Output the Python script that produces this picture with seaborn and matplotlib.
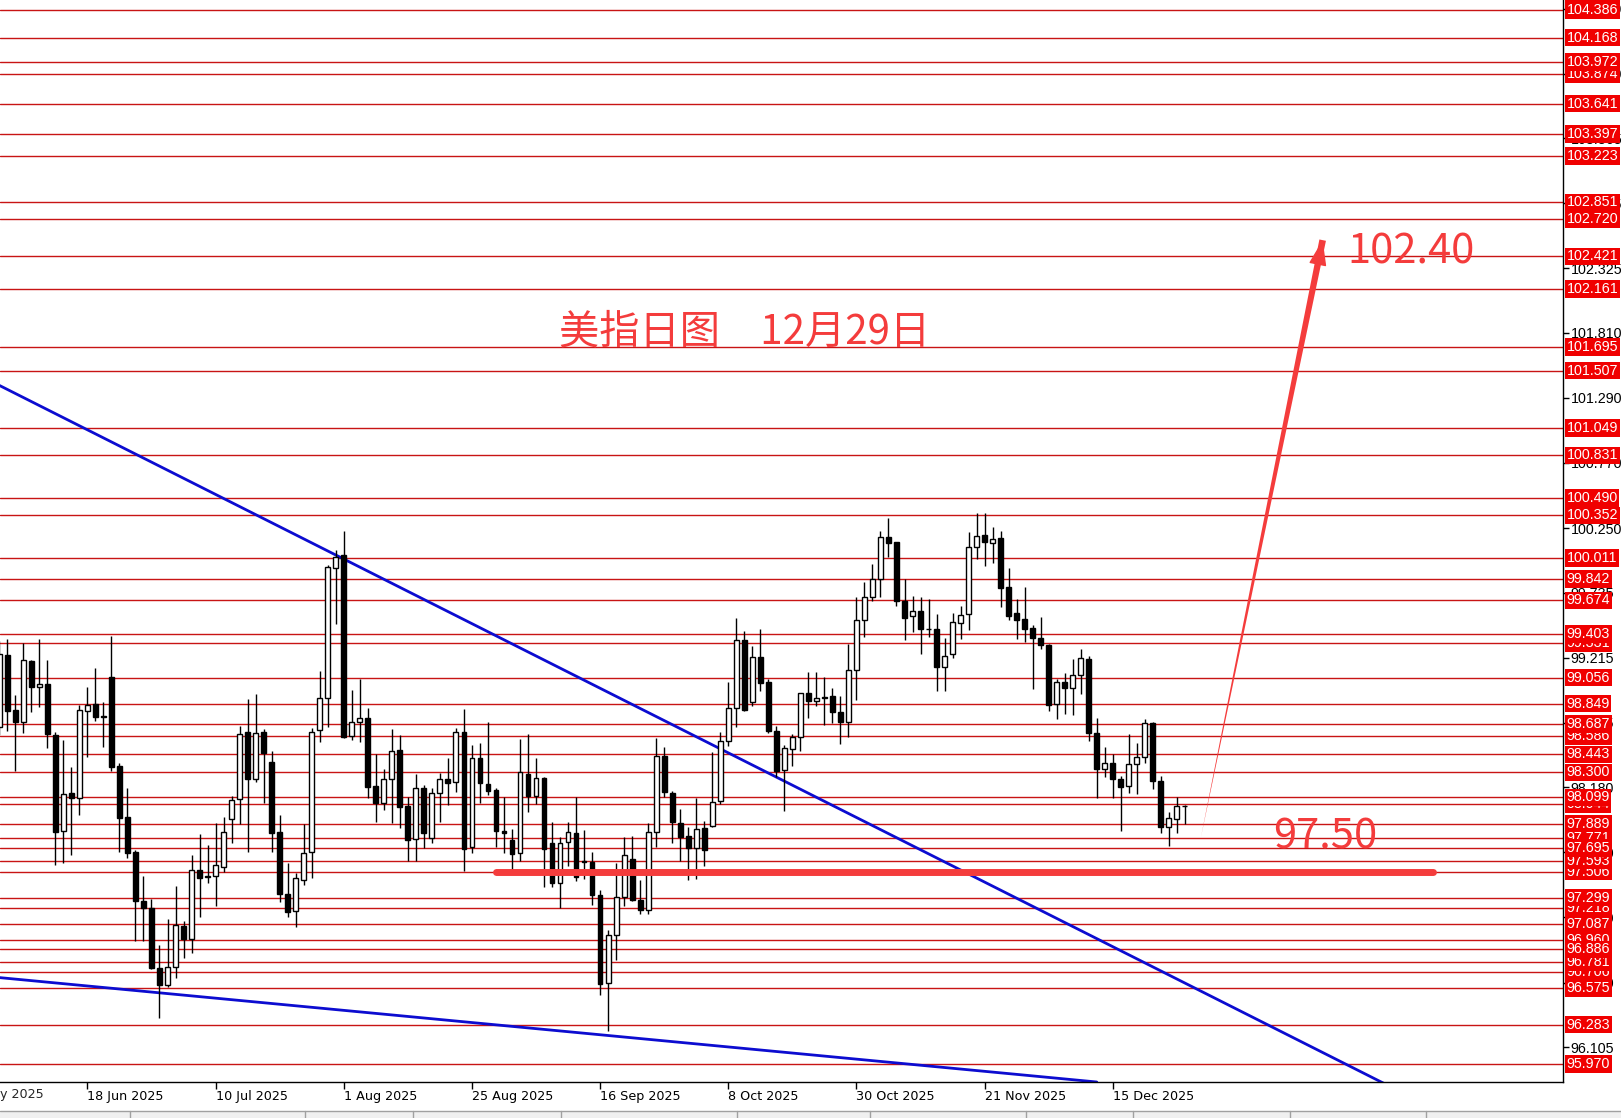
import numpy as np
import pandas as pd
import matplotlib
matplotlib.use('Agg')
import matplotlib.pyplot as plt
import seaborn as sns

# 美元指数日线 (开, 高, 低, 收), 第一根 = 2025-06-03
opens = [98.665, 99.237, 98.798, 98.704, 99.189, 98.979, 99.005, 98.598, 97.834, 98.137,
         98.092, 98.792, 98.843, 98.747, 99.059, 98.350, 97.940, 97.661, 97.272, 97.219,
         96.734, 96.601, 96.748, 97.075, 96.966, 97.520, 97.469, 97.474, 97.546, 97.924,
         98.084, 98.619, 98.247, 98.619, 98.380, 97.821, 97.325, 97.192, 97.440, 97.661,
         98.638, 98.891, 99.929, 100.036, 98.590, 98.704, 98.731, 98.191, 98.052, 98.244,
         98.478, 98.031, 97.764, 98.172, 97.772, 98.132, 98.244, 98.220, 98.619, 97.700,
         98.411, 98.204, 98.158, 97.831, 97.759, 97.653, 98.286, 98.113, 98.252, 97.732,
         97.413, 97.740, 97.812, 97.594, 97.586, 97.320, 96.614, 97.000, 97.306, 97.605,
         97.280, 97.200, 97.826, 98.430, 98.134, 97.895, 97.791, 97.695, 97.855, 97.868,
         98.073, 98.552, 98.813, 99.356, 98.858, 99.218, 99.024, 98.632, 98.318, 98.486,
         98.579, 98.933, 98.866, 98.901, 98.906, 98.779, 98.699, 99.117, 99.517, 99.703,
         99.841, 100.177, 100.137, 99.671, 99.551, 99.591, 99.447, 99.442, 99.144, 99.242,
         99.495, 99.562, 100.097, 100.193, 100.129, 100.169, 99.778, 99.570, 99.522, 99.450,
         99.370, 99.316, 98.845, 99.018, 98.970, 99.077, 99.202, 98.611, 98.323, 98.371,
         98.243, 98.190, 98.366, 98.424, 98.696, 98.233, 97.865, 97.924, 98.030]
highs = [99.349, 99.362, 98.917, 99.335, 99.197, 99.362, 99.197, 98.619, 98.558, 98.340,
         98.838, 98.979, 99.130, 98.864, 99.389, 98.372, 98.172, 97.679, 97.472, 97.285,
         96.921, 97.126, 97.392, 97.112, 97.640, 97.807, 97.719, 97.898, 97.940, 98.111,
         98.673, 98.886, 98.925, 98.643, 98.473, 97.959, 97.573, 97.493, 97.884, 98.651,
         99.112, 99.956, 100.076, 100.227, 98.957, 99.043, 98.811, 98.446, 98.324, 98.643,
         98.598, 98.105, 98.286, 98.198, 98.172, 98.292, 98.411, 98.651, 98.803, 98.518,
         98.531, 98.699, 98.172, 98.105, 97.844, 98.563, 98.606, 98.411, 98.265, 97.905,
         97.786, 97.905, 98.105, 97.839, 97.666, 97.360, 97.040, 97.573, 97.786, 97.791,
         97.440, 97.892, 98.571, 98.505, 98.153, 98.007, 97.860, 98.094, 97.913, 98.459,
         98.619, 99.024, 99.532, 99.431, 99.311, 99.444, 99.045, 98.672, 98.520, 98.606,
         98.933, 99.103, 99.103, 99.063, 98.970, 98.912, 99.324, 99.698, 99.818, 99.964,
         100.228, 100.329, 100.140, 99.841, 99.708, 99.703, 99.682, 99.562, 99.370, 99.570,
         99.631, 100.217, 100.369, 100.369, 100.262, 100.230, 99.929, 99.682, 99.783, 99.477,
         99.538, 99.325, 99.042, 99.095, 99.202, 99.282, 99.228, 98.731, 98.499, 98.443,
         98.273, 98.603, 98.531, 98.723, 98.704, 98.270, 97.985, 98.105, 98.035]
lows = [98.600, 98.633, 98.313, 98.617, 98.784, 98.824, 98.491, 97.560, 97.573, 97.640,
        97.959, 98.425, 98.712, 98.505, 98.313, 97.666, 97.613, 96.955, 96.955, 96.732,
        96.335, 96.583, 96.654, 96.820, 96.854, 97.142, 97.419, 97.232, 97.506, 97.733,
        97.887, 97.666, 98.225, 98.057, 97.666, 97.267, 97.147, 97.067, 97.400, 97.453,
        98.545, 98.665, 99.485, 98.571, 98.558, 98.545, 98.092, 97.906, 97.999, 97.898,
        97.858, 97.591, 97.591, 97.692, 97.738, 97.905, 98.039, 98.145, 97.514, 97.653,
        98.052, 98.118, 97.700, 97.653, 97.519, 97.591, 97.980, 98.047, 97.386, 97.381,
        97.219, 97.554, 97.434, 97.448, 97.240, 96.521, 96.233, 96.801, 97.235, 97.274,
        97.165, 97.165, 97.700, 98.100, 97.732, 97.589, 97.439, 97.447, 97.554, 97.860,
        98.046, 98.507, 98.659, 98.792, 98.830, 98.946, 98.611, 98.259, 97.988, 98.347,
        98.467, 98.733, 98.827, 98.680, 98.691, 98.526, 98.579, 98.877, 99.384, 99.671,
        99.703, 100.023, 99.631, 99.357, 99.423, 99.245, 99.384, 98.952, 98.952, 99.210,
        99.362, 99.437, 100.001, 99.951, 99.975, 99.618, 99.517, 99.365, 99.344, 98.966,
        99.282, 98.792, 98.725, 98.765, 98.757, 98.925, 98.552, 98.092, 98.259, 98.092,
        97.833, 98.137, 98.126, 98.376, 98.164, 97.817, 97.711, 97.817, 97.887]
closes = [99.245, 98.792, 98.704, 99.197, 98.979, 99.003, 98.603, 97.826, 98.124, 98.092,
          98.798, 98.838, 98.744, 98.742, 98.345, 97.938, 97.658, 97.275, 97.219, 96.734,
          96.601, 96.742, 97.080, 96.969, 97.520, 97.459, 97.464, 97.560, 97.821, 98.079,
          98.603, 98.247, 98.611, 98.457, 97.813, 97.325, 97.182, 97.453, 97.653, 98.625,
          98.891, 99.937, 100.017, 98.585, 98.704, 98.731, 98.185, 98.057, 98.244, 98.473,
          98.025, 97.759, 98.172, 97.818, 98.132, 98.244, 98.217, 98.619, 97.687, 98.411,
          98.212, 98.153, 97.834, 97.812, 97.645, 98.300, 98.113, 98.252, 97.687, 97.413,
          97.732, 97.820, 97.461, 97.581, 97.320, 96.609, 97.000, 97.306, 97.639, 97.280,
          97.200, 97.826, 98.430, 98.145, 97.900, 97.786, 97.695, 97.847, 97.682, 98.062,
          98.547, 98.813, 99.356, 98.797, 99.218, 99.010, 98.627, 98.313, 98.491, 98.579,
          98.933, 98.866, 98.893, 98.896, 98.779, 98.699, 99.117, 99.517, 99.703, 99.841,
          100.177, 100.134, 99.671, 99.530, 99.591, 99.442, 99.442, 99.144, 99.232, 99.503,
          99.557, 100.097, 100.190, 100.142, 100.166, 99.775, 99.551, 99.517, 99.442, 99.370,
          99.317, 98.837, 99.023, 98.970, 99.077, 99.210, 98.611, 98.323, 98.371, 98.243,
          98.185, 98.366, 98.424, 98.696, 98.233, 97.865, 97.932, 98.030, 98.028]
first_day = pd.Timestamp('2025-06-03')

# 水平价位线 (画的先后决定标签的遮挡)
levels = [95.970, 96.283, 96.575, 96.706, 96.781, 96.960, 96.886, 97.087, 97.218, 97.299,
          97.506, 97.593, 97.771, 97.695, 97.889, 98.044, 98.099, 98.300, 98.443, 98.586,
          98.687, 98.849, 99.056, 99.331, 99.403, 99.674, 99.842, 100.011, 100.352, 100.490,
          100.831, 101.049, 101.507, 101.695, 102.161, 102.421, 102.720, 102.851, 103.223,
          103.397, 103.641, 103.874, 103.972, 104.168, 104.386, 104.510]
axis_ticks = [96.105, 96.620, 97.140, 97.660, 98.180, 98.695, 99.215, 99.735, 100.250,
              100.770, 101.290, 101.810, 102.325, 102.845, 103.365, 103.880, 104.400]

# 趋势线 (bar 序号, 价格)
upper_x = [-1, 172]
upper_y = [101.39, 95.81]
lower_x = [-1, 136]
lower_y = [96.66, 95.826]

support = 97.50
support_x = [61, 178]
target = 102.40
arrow_from = (149.0, 97.78)
arrow_to = (164.2, 102.55)
title = '美指日图　12月29日'

sns.set_style('white')
plt.rcParams['font.family'] = ['DejaVu Sans', 'Noto Sans CJK SC']

W, H = 1621, 1118
fig = plt.figure(figsize=(W / 100, H / 100), dpi=100)
ax = fig.add_axes([0, 36 / H, 1563 / W, 1082 / H])

x = np.arange(-1, len(opens) - 1)
o = np.array(opens)
c = np.array(closes)
up = c >= o

# 价位线
for lv in levels:
    ax.axhline(lv, color='#c81414', lw=1, zorder=1)

# 蓝色趋势线
sns.lineplot(x=upper_x, y=upper_y, color='#0c0cd0', lw=2, ax=ax, zorder=2)
sns.lineplot(x=lower_x, y=lower_y, color='#0c0cd0', lw=2, ax=ax, zorder=2)

# K线
ax.vlines(x, lows, highs, color='black', lw=1, zorder=3)
body_lo = np.minimum(o, c)
body_h = np.maximum(np.abs(c - o), 0.004)
ax.bar(x, body_h, bottom=body_lo, width=0.6,
       color=np.where(up, 'white', 'black'), edgecolor='black', linewidth=1, zorder=4)

# 支撑线和箭头
red = '#f43c3c'
ax.plot(support_x, [support, support], color=red, lw=5, solid_capstyle='round', zorder=6)
ax.annotate('', xy=arrow_from, xytext=arrow_to,
            arrowprops=dict(arrowstyle='wedge,tail_width=0.4,shrink_factor=0.5',
                            color=red, lw=0, mutation_scale=12, shrinkA=0, shrinkB=0),
            zorder=6)
dx = arrow_to[0] - arrow_from[0]
dy = arrow_to[1] - arrow_from[1]
ax.annotate('', xy=arrow_to, xytext=(arrow_to[0] - 0.06 * dx, arrow_to[1] - 0.06 * dy),
            arrowprops=dict(arrowstyle='-|>,head_length=0.8,head_width=0.28',
                            color=red, lw=1, mutation_scale=20, shrinkA=0, shrinkB=0),
            zorder=6)

cjk = ['Noto Sans CJK SC', 'DejaVu Sans']
ax.text(68.9, 101.82, title, color=red, fontsize=29, family=cjk, va='center', ha='left', zorder=7)
ax.text(167.3, 102.455, f'{target:.2f}', color=red, fontsize=30, family=cjk, va='center', ha='left', zorder=7)
ax.text(158.0, 97.78, f'{support:.2f}', color=red, fontsize=30, family=cjk, va='center', ha='left', zorder=7)

ax.set_xlim(-0.91, 194.2)
ax.set_ylim(95.826, 104.468)

# 右侧价格轴
lab_font = 'Liberation Sans'
ax.yaxis.tick_right()
ax.set_yticks(axis_ticks)
ax.set_yticklabels([f'{t:.3f}' for t in axis_ticks], family=lab_font)
ax.tick_params(axis='y', right=True, left=False, direction='out', length=4, width=1,
               pad=1.5, labelsize=10.3, colors='black')
for lv in levels:
    ax.text(1.0022, lv, f'{lv:.3f}', transform=ax.get_yaxis_transform(), color='white',
            fontsize=10.3, family=lab_font, va='center', ha='left', clip_on=False, zorder=10,
            bbox=dict(boxstyle='square,pad=0.12', fc='#f00000', ec='none'))

# 日期轴
label_k = list(range(10, len(opens) - 1, 16))
label_txt = [(first_day + pd.offsets.BDay(k + 1)).strftime('%-d %b %Y') for k in label_k]
ax.set_xticks(label_k)
ax.set_xticklabels(label_txt, ha='left')
ax.tick_params(axis='x', bottom=True, direction='out', length=5, width=1, pad=1,
               labelsize=9.2, colors='black')
first_lbl = (first_day + pd.offsets.BDay(-5)).strftime('%-d %b %Y')
ax.text(-6 + 0.2, -6 / 1082, first_lbl, transform=ax.get_xaxis_transform(),
        fontsize=9.2, va='top', ha='left', clip_on=False)

for s in ['left', 'top']:
    ax.spines[s].set_visible(False)
for s in ['right', 'bottom']:
    ax.spines[s].set_color('black')
    ax.spines[s].set_linewidth(1)

# 底部灰条
fig.add_artist(plt.Rectangle((0, 0), 1, 7 / H, transform=fig.transFigure,
                             fc='#f0f0f0', ec='none'))
fig.add_artist(plt.Line2D([0, 1], [7 / H, 7 / H], transform=fig.transFigure,
                          color='#a0a0a0', lw=1))
for sx in [130, 305, 413, 561, 737, 870, 1026, 1133, 1290, 1426]:
    fig.add_artist(plt.Line2D([sx / W, sx / W], [0, 7 / H], transform=fig.transFigure,
                              color='#a0a0a0', lw=1))

fig.savefig('out.png', dpi=100)
